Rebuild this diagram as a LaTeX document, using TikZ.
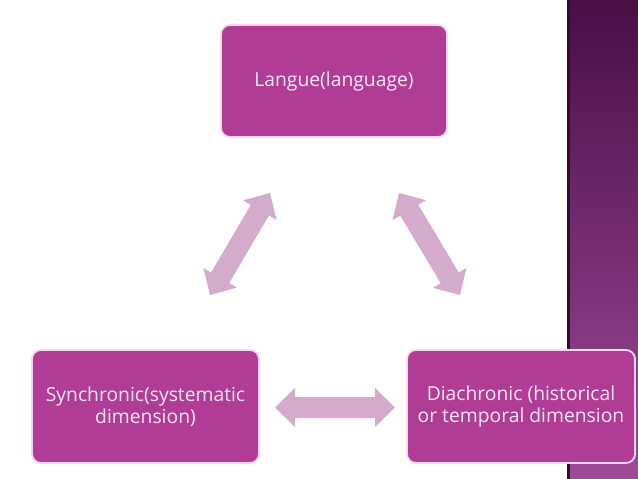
\documentclass[tikz,border=0pt]{standalone}
\usepackage{fontspec}
\setmainfont{Open Sans}
\usetikzlibrary{calc}
\definecolor{boxfill}{HTML}{B03C96}
\definecolor{boxline}{HTML}{F8D6EF}
\definecolor{boxtext}{HTML}{F7E8F3}
\definecolor{arrfill}{HTML}{D5ABCB}
\definecolor{bartop}{HTML}{4A0E45}
\definecolor{barbot}{HTML}{9E4A97}
\definecolor{baredge}{HTML}{3A0836}
\newcommand\dblarr[2]{%
  \fill[arrfill] (#1)
    -- ($($(#1)!20pt!(#2)$)!19.5pt!90:(#2)$)
    -- ($($(#1)!20pt!(#2)$)!10.5pt!90:(#2)$)
    -- ($($(#2)!20pt!(#1)$)!10.5pt!-90:(#1)$)
    -- ($($(#2)!20pt!(#1)$)!19.5pt!-90:(#1)$)
    -- (#2)
    -- ($($(#2)!20pt!(#1)$)!19.5pt!90:(#1)$)
    -- ($($(#2)!20pt!(#1)$)!10.5pt!90:(#1)$)
    -- ($($(#1)!20pt!(#2)$)!10.5pt!-90:(#2)$)
    -- ($($(#1)!20pt!(#2)$)!19.5pt!-90:(#2)$)
    -- cycle;}
\begin{document}
\begin{tikzpicture}[x=1pt,y=-1pt,
  termbox/.style={draw=boxline, line width=1.8pt, fill=boxfill, rounded corners=9pt,
    text=boxtext, font=\fontsize{19.3}{21.5}\selectfont, align=center, inner sep=0pt}]
\useasboundingbox (0,0) rectangle (638,479);
\fill[white] (0,0) rectangle (638,479);
% side bar
\shade[top color=bartop, bottom color=barbot] (568,0) rectangle (638,479);
\fill[baredge] (567,0) rectangle (569.5,479);
% boxes
\node[termbox, minimum width=226pt, minimum height=112pt] (lang) at (334,81) {Langue(language)};
\node[termbox, minimum width=227pt, minimum height=113pt] (sync) at (145.5,406.5) {Synchronic(systematic\\dimension)};
\node[termbox, minimum width=228pt, minimum height=113pt] (diac) at (521,406.5) {Diachronic (historical\\or temporal dimension};
% arrow tips
\coordinate (la) at (210,295);
\coordinate (lb) at (270,193);
\coordinate (ra) at (399,193);
\coordinate (rb) at (460,295);
\coordinate (ba) at (275,407.5);
\coordinate (bb) at (395,407.5);
\dblarr{la}{lb}
\dblarr{ra}{rb}
\dblarr{ba}{bb}
\end{tikzpicture}
\end{document}
